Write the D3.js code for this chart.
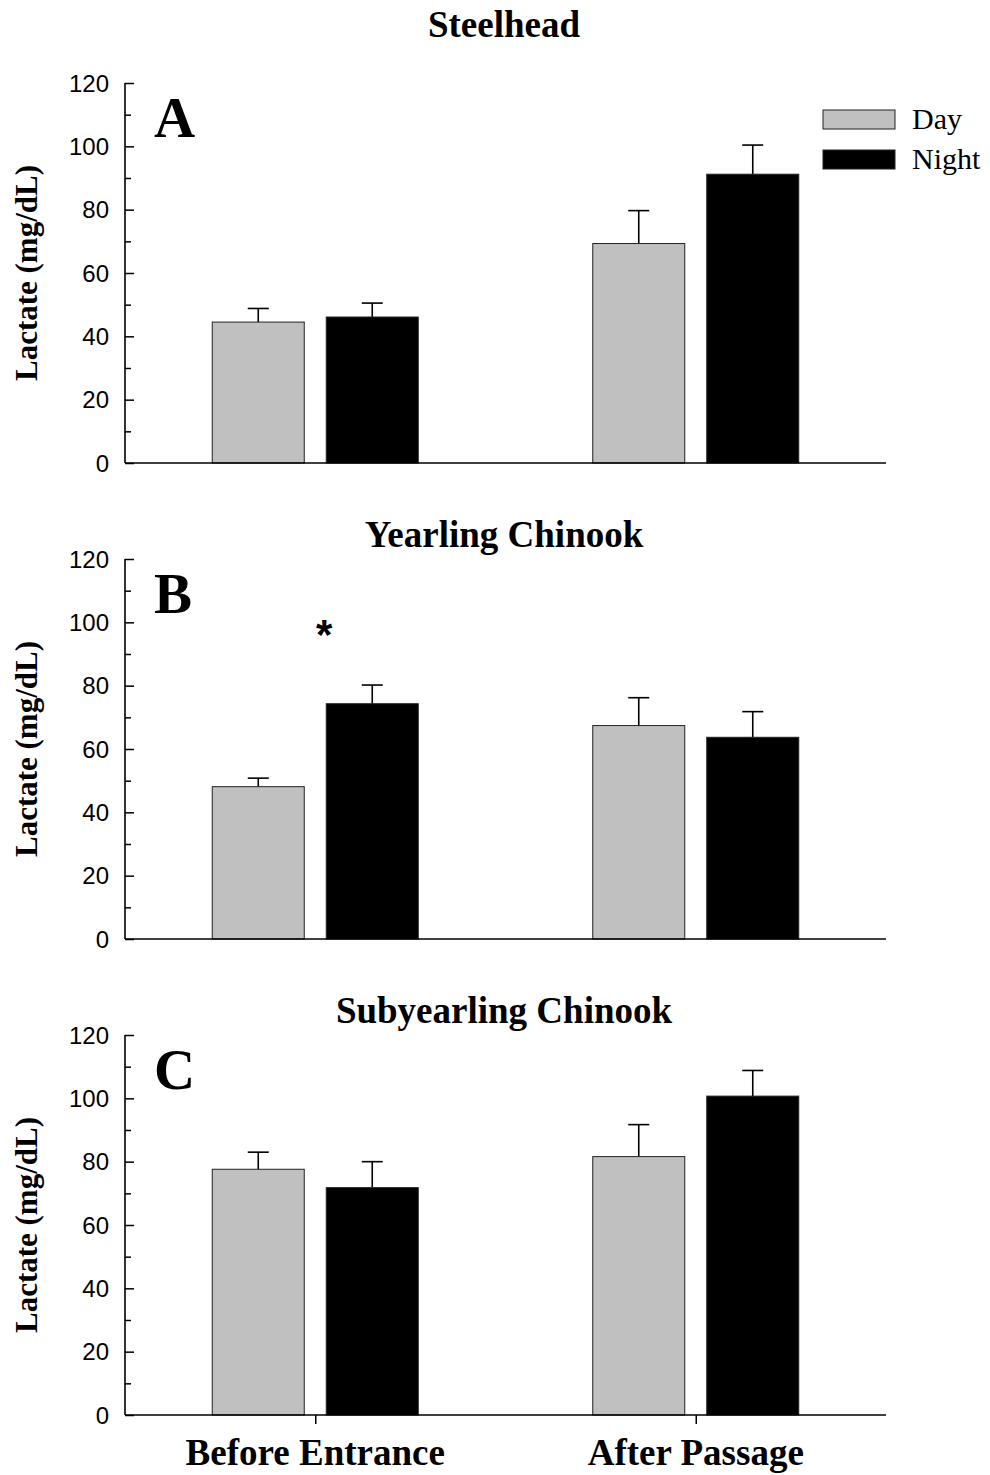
<!DOCTYPE html>
<html>
<head>
<meta charset="utf-8">
<script src="https://cdn.jsdelivr.net/npm/d3@7"></script>
<style>
  html, body { margin: 0; padding: 0; background: #fff; }
  svg { display: block; }
</style>
</head>
<body>
<script>
// Blood lactate by sampling point, day vs night, for three juvenile salmonid groups
const panels = ["Steelhead", "Yearling Chinook", "Subyearling Chinook"];
const panelLetters = ["A", "B", "C"];
const categories = ["Before Entrance", "After Passage"];
const series = ["Day", "Night"];

// means (mg/dL), [Before Entrance, After Passage]
const dayMean   = [[44.5, 69.3], [48.1, 67.4], [77.6, 81.6]];
const nightMean = [[46.1, 91.2], [74.3, 63.7], [71.8, 100.7]];
// upper end of the error bar (mean + SE)
const dayUpper   = [[48.8, 79.7], [50.8, 76.2], [83.0, 91.7]];
const nightUpper = [[50.5, 100.4], [80.2, 71.8], [80.0, 108.8]];

const yTicks = [0, 20, 40, 60, 80, 100, 120];
const yMinorTicks = [10, 30, 50, 70, 90, 110];
// significant day/night difference markers: [panel, category]
const significance = [[1, "Before Entrance"]];

const W = 990, H = 1475;
const svg = d3.select("body").append("svg").attr("width", W).attr("height", H);

const left = 125, right = 886;
const panelTops = [83, 559, 1035];
const panelH = 380;

const x = d3.scalePoint().domain(categories).range([left, right]).padding(0.5);
const xs = d3.scaleBand().domain(series).range([-103, 103]).paddingInner(0.193);
const fills = { Day: "#c0c0c0", Night: "#000000" };

panels.forEach((name, i) => {
  const top = panelTops[i];
  const y = d3.scaleLinear().domain([0, 120]).range([top + panelH, top]);
  const g = svg.append("g");

  const rows = [];
  categories.forEach((c, j) => {
    rows.push({ cat: c, s: "Day", v: dayMean[i][j], up: dayUpper[i][j] });
    rows.push({ cat: c, s: "Night", v: nightMean[i][j], up: nightUpper[i][j] });
  });

  // error bars (drawn first so the bar covers the stem base)
  const eb = g.selectAll("g.err").data(rows).join("g").attr("class", "err");
  eb.append("line")
    .attr("x1", d => x(d.cat) + xs(d.s) + xs.bandwidth() / 2)
    .attr("x2", d => x(d.cat) + xs(d.s) + xs.bandwidth() / 2)
    .attr("y1", d => y(d.v)).attr("y2", d => y(d.up))
    .attr("stroke", "#000").attr("stroke-width", 1.6);
  eb.append("line")
    .attr("x1", d => x(d.cat) + xs(d.s) + xs.bandwidth() / 2 - 10.5)
    .attr("x2", d => x(d.cat) + xs(d.s) + xs.bandwidth() / 2 + 10.5)
    .attr("y1", d => y(d.up)).attr("y2", d => y(d.up))
    .attr("stroke", "#000").attr("stroke-width", 1.6);

  g.selectAll("rect.bar").data(rows).join("rect").attr("class", "bar")
    .attr("x", d => x(d.cat) + xs(d.s))
    .attr("width", xs.bandwidth())
    .attr("y", d => y(d.v))
    .attr("height", d => y(0) - y(d.v))
    .attr("fill", d => fills[d.s])
    .attr("stroke", "#222").attr("stroke-width", 1);

  // left axis: ticks pointing inward
  const yAxis = d3.axisRight(y).tickValues(yTicks).tickSize(9).tickFormat("");
  const ya = g.append("g").attr("transform", `translate(${left},0)`).call(yAxis);
  ya.select(".domain").remove();
  ya.selectAll("line").attr("stroke", "#000").attr("stroke-width", 1.5);
  const yMinor = d3.axisRight(y).tickValues(yMinorTicks).tickSize(6).tickFormat("");
  const ym = g.append("g").attr("transform", `translate(${left},0)`).call(yMinor);
  ym.select(".domain").remove();
  ym.selectAll("line").attr("stroke", "#000").attr("stroke-width", 1.5);

  g.append("line").attr("x1", left).attr("x2", left)
    .attr("y1", y(120)).attr("y2", y(0)).attr("stroke", "#000").attr("stroke-width", 1.6);

  g.selectAll("text.ytick").data(yTicks).join("text").attr("class", "ytick")
    .attr("x", 109).attr("y", d => y(d)).attr("dy", "0.36em")
    .attr("text-anchor", "end")
    .attr("font-family", "Liberation Sans, Arial, sans-serif")
    .attr("font-size", 24).attr("fill", "#000")
    .text(d => d);

  // bottom axis
  if (i === 2) {
    const xAxis = d3.axisBottom(x).tickSize(9).tickFormat("");
    const xa = g.append("g").attr("transform", `translate(0,${y(0)})`).call(xAxis);
    xa.select(".domain").remove();
    xa.selectAll("line").attr("stroke", "#000").attr("stroke-width", 1.5);
    g.selectAll("text.xcat").data(categories).join("text").attr("class", "xcat")
      .attr("x", d => x(d)).attr("y", y(0) + 50)
      .attr("text-anchor", "middle")
      .attr("font-family", "Liberation Serif, Times New Roman, serif")
      .attr("font-weight", "bold").attr("font-size", 37).attr("fill", "#000")
      .text(d => d);
  }
  g.append("line").attr("x1", left).attr("x2", right)
    .attr("y1", y(0)).attr("y2", y(0)).attr("stroke", "#000").attr("stroke-width", 1.6);

  // panel title
  g.append("text").attr("x", 504).attr("y", i === 0 ? top - 46 : top - 12)
    .attr("text-anchor", "middle")
    .attr("font-family", "Liberation Serif, Times New Roman, serif")
    .attr("font-weight", "bold").attr("font-size", 37).attr("fill", "#000")
    .text(name);

  // panel letter
  g.append("text").attr("x", 154).attr("y", top + 54)
    .attr("font-family", "Liberation Serif, Times New Roman, serif")
    .attr("font-weight", "bold").attr("font-size", 57).attr("fill", "#000")
    .text(panelLetters[i]);

  // y-axis title
  g.append("text")
    .attr("transform", `translate(37,${top + panelH / 2}) rotate(-90)`)
    .attr("text-anchor", "middle")
    .attr("font-family", "Liberation Serif, Times New Roman, serif")
    .attr("font-weight", "bold").attr("font-size", 31).attr("fill", "#000")
    .text("Lactate (mg/dL)");

  // significance asterisks
  significance.filter(s => s[0] === i).forEach(s => {
    g.append("text")
      .attr("x", x(s[1]) + 9).attr("y", top + 90)
      .attr("text-anchor", "middle")
      .attr("font-family", "Liberation Sans, Arial, sans-serif")
      .attr("font-weight", "bold").attr("font-size", 42).attr("fill", "#000")
      .text("*");
  });
});

// legend
const legend = svg.append("g");
series.forEach((s, k) => {
  const ly = 110 + k * 40;
  legend.append("rect").attr("x", 823).attr("y", ly).attr("width", 72).attr("height", 19)
    .attr("fill", fills[s]).attr("stroke", "#222").attr("stroke-width", 1);
  legend.append("text").attr("x", 912).attr("y", ly + 19)
    .attr("font-family", "Liberation Serif, Times New Roman, serif")
    .attr("font-size", 30).attr("fill", "#000")
    .text(s);
});
</script>
</body>
</html>
